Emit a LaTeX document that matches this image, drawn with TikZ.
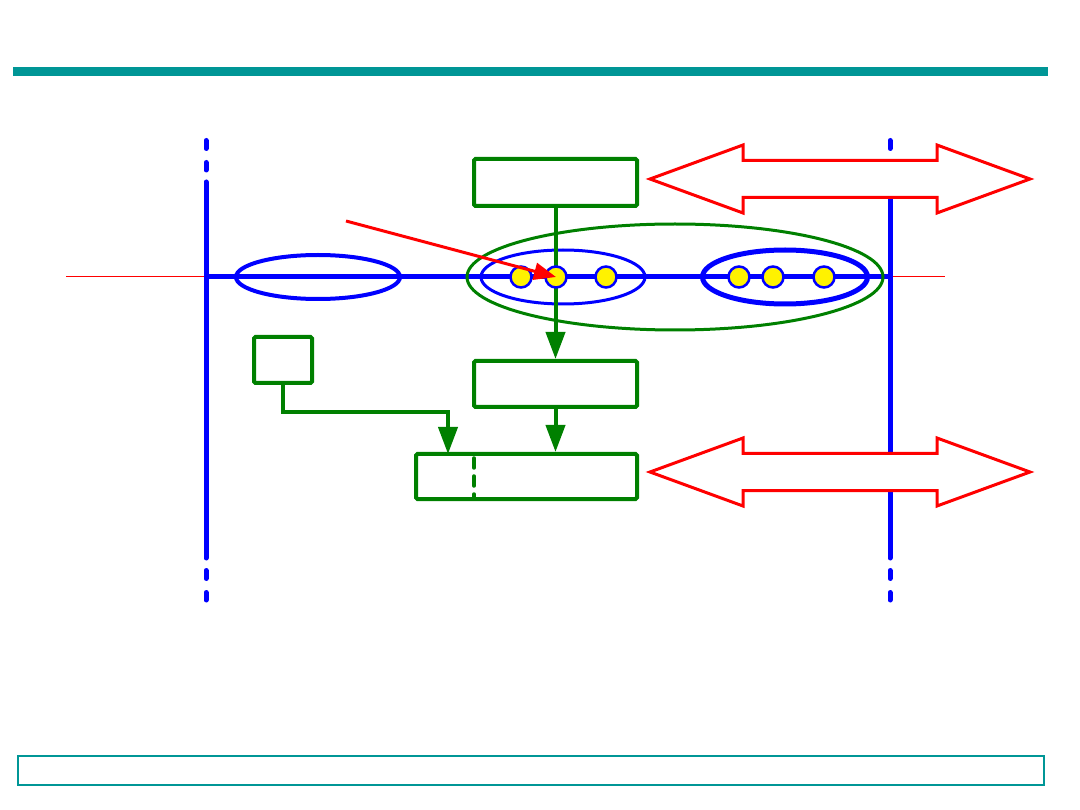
\documentclass[tikz,border=0pt]{standalone}
\usepackage{tikz}
\usepackage{xcolor}
\usetikzlibrary{shapes.geometric, arrows.meta, positioning, calc}
\definecolor{barteal}{RGB}{0,150,150}
\definecolor{linkgreen}{RGB}{0,128,0}

\begin{document}
\begin{tikzpicture}[x=1pt, y=-1pt]
    % Define styles
    \tikzstyle{frame}=[rectangle, draw=linkgreen, line width=4pt, rounded corners=1.5pt, inner sep=0pt]
    \tikzstyle{ring}=[ellipse, draw=blue, inner sep=0pt]
    \tikzstyle{station}=[circle, draw=blue, fill=yellow, line width=2.5pt, minimum size=21pt, inner sep=0pt]
    \tikzstyle{flow}=[draw=linkgreen, line width=4pt, -{Triangle[length=27pt, width=19pt]}]
    \tikzstyle{wire}=[draw=blue, line width=5pt, line cap=round]
    \tikzstyle{bigarrow}=[draw=red, line width=3pt, fill=white, line join=miter]

    \useasboundingbox (0,0) rectangle (1080,810);

    % Header bar and footer frame
    \fill[barteal] (13,67) rectangle (1048,76);
    \draw[barteal, line width=2pt] (18,756) rectangle (1044,785);

    % Axis lines
    \draw[red, line width=1pt] (66,277) -- (945,277);
    \draw[blue, line width=5pt] (206,277) -- (890,277);
    \foreach \x in {206,890} {
        \draw[wire] (\x,182) -- (\x,558);
        \draw[wire, dash pattern=on 8pt off 14pt] (\x,140.5) -- (\x,170);
        \draw[wire, dash pattern=on 8pt off 14pt] (\x,570.5) -- (\x,600);
    }

    % Groups
    \node[ring, line width=4pt, minimum width=164pt, minimum height=44pt] at (318,277) (grpa) {};
    \node[ring, line width=3pt, minimum width=164pt, minimum height=54pt] at (563,277) (grpb) {};
    \node[ring, line width=5pt, minimum width=165pt, minimum height=54pt] at (785,277) (grpc) {};
    \node[ellipse, draw=linkgreen, line width=3pt, inner sep=0pt, minimum width=416pt, minimum height=106pt] at (675,277) (outer) {};

    % Boxes
    \node[frame, minimum width=163pt, minimum height=47pt] at (555.5,182.5) (topbox) {};
    \node[frame, minimum width=163pt, minimum height=46pt] at (555.5,384) (midbox) {};
    \node[frame, minimum width=221pt, minimum height=45pt] at (526.5,476.5) (lowbox) {};
    \node[frame, minimum width=58pt, minimum height=46pt] at (283,360) (sidebox) {};
    \draw[linkgreen, line width=3.5pt, line cap=round, dash pattern=on 10pt off 8pt] (474,458) -- (474,497);
    \coordinate (leftin) at (448,454);

    % Flows
    \draw[flow] (topbox.south) -- (midbox.north);
    \draw[flow] (midbox.south) -- (midbox.south |- lowbox.north);
    \draw[flow] (sidebox.south) -- ++(0,27) -| (leftin);

    % Stations
    \node[station] at (521,277) (st1) {};
    \node[station] at (556,277) (st2) {};
    \node[station] at (606,277) (st3) {};
    \node[station] at (739,277) (st4) {};
    \node[station] at (773,277) (st5) {};
    \node[station] at (824,277) (st6) {};

    % Pointer
    \coordinate (pointer) at (346,221);
    \draw[red, line width=3pt, -{Triangle[length=22pt, width=17pt]}] (pointer) -- (st2.center);

    % Double arrows
    \foreach \y in {179,472} {
        \draw[bigarrow] (650,\y) -- (743,\y-34) -- (743,\y-18.5) -- (937,\y-18.5) -- (937,\y-34)
            -- (1030,\y) -- (937,\y+34) -- (937,\y+18.5) -- (743,\y+18.5) -- (743,\y+34) -- cycle;
    }
\end{tikzpicture}
\end{document}
